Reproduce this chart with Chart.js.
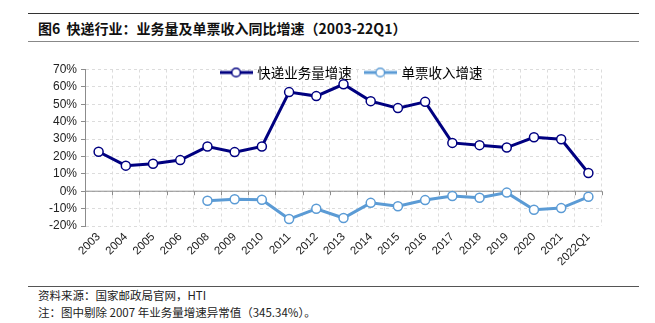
<!DOCTYPE html>
<html>
<head>
<meta charset="utf-8">
<script src="https://cdn.jsdelivr.net/npm/chart.js"></script>
<style>
  body { margin: 0; background: #fff; width: 655px; height: 323px; position: relative; overflow: hidden;
         font-family: "Noto Sans CJK SC", "Liberation Sans", sans-serif; }
  .rule { position: absolute; left: 28px; width: 611px; height: 0; }
  #title { position: absolute; left: 38px; top: 18px; font-size: 14px; font-weight: bold; color: #111; white-space: nowrap; }
  .foot { position: absolute; left: 38px; font-size: 11.5px; color: #222; white-space: nowrap; }
  #box { position: absolute; left: 0; top: 32px; width: 655px; height: 248px; }
</style>
</head>
<body>
  <div class="rule" style="top:13px;border-top:1.5px solid #333"></div>
  <div id="title">图6&nbsp;&nbsp;快递行业：业务量及单票收入同比增速（2003-22Q1）</div>
  <div class="rule" style="top:41px;border-top:1px solid #888"></div>
  <div id="box"><canvas id="myChart"></canvas></div>
  <div class="rule" style="top:286px;border-top:1px solid #555"></div>
  <div class="foot" style="top:287px">资料来源：国家邮政局官网，HTI</div>
  <div class="foot" style="top:304px">注：图中剔除 2007 年业务量增速异常值（345.34%）。</div>
<script>
  const years = ['2003', '2004', '2005', '2006', '2008', '2009', '2010', '2011', '2012', '2013',
                 '2014', '2015', '2016', '2017', '2018', '2019', '2020', '2021', '2022Q1'];
  // 快递业务量增速 (%)
  const volumeGrowth = [22.7, 14.7, 15.8, 17.9, 25.7, 22.5, 25.7, 57.0, 54.7, 61.5,
                        51.8, 47.8, 51.4, 27.8, 26.5, 25.1, 31.0, 29.9, 10.5];
  // 单票收入增速 (%), no data before 2008
  const unitRevenueGrowth = [null, null, null, null, -5.5, -4.6, -4.9, -16.0, -10.1, -15.4,
                             -6.7, -8.6, -5.1, -2.7, -3.8, -0.8, -10.7, -9.7, -3.2];
  const yTicks = { min: -20, max: 70, step: 10 };

  const navy = 'rgb(0,0,128)';
  const sky = 'rgb(91,155,213)';

  // legend marker: short line with an open circle
  function legendMark(color) {
    const c = document.createElement('canvas');
    c.width = 33; c.height = 12;
    const g = c.getContext('2d');
    g.strokeStyle = color; g.lineWidth = 3;
    g.beginPath(); g.moveTo(0, 6); g.lineTo(33, 6); g.stroke();
    g.beginPath(); g.arc(16.5, 6, 4.3, 0, Math.PI * 2);
    g.fillStyle = '#fff'; g.fill();
    g.lineWidth = 1.5; g.stroke();
    return c;
  }

  // solid zero line with small ticks at the category boundaries
  const zeroAxis = {
    id: 'zeroAxis',
    beforeDatasetsDraw(chart) {
      const {ctx, chartArea, scales: {x, y}} = chart;
      const y0 = y.getPixelForValue(0);
      const step = x.getPixelForValue(1) - x.getPixelForValue(0);
      ctx.save();
      ctx.strokeStyle = '#8c8c8c';
      ctx.lineWidth = 1;
      ctx.beginPath();
      ctx.moveTo(chartArea.left, y0);
      ctx.lineTo(chartArea.right, y0);
      for (let i = 0; i <= years.length; i++) {
        const xb = Math.round(x.getPixelForValue(i) - step / 2) + 0.5;
        ctx.moveTo(xb, y0);
        ctx.lineTo(xb, y0 + 4);
      }
      ctx.stroke();
      ctx.restore();
    }
  };

  // the legend takes its room at the top, then is moved down onto the top gridline
  const legendShift = {
    id: 'legendShift',
    afterLayout(chart) {
      const l = chart.legend;
      if (!l) return;
      const pad = l.options.labels.padding;
      const fs = l.options.labels.font.size;
      l.top = chart.chartArea.top + 3 - pad - fs / 2;
      l.bottom = l.top + l.height;
      l.left += 51; l.right += 51;
    }
  };

  Chart.defaults.font.family = '"Liberation Sans", Arial, sans-serif';
  Chart.defaults.color = '#222';

  const ctx = document.getElementById('myChart');
  const myChart = new Chart(ctx, {
    type: 'line',
    data: {
      labels: years,
      datasets: [{
        label: '快递业务量增速',
        data: volumeGrowth,
        borderColor: navy,
        backgroundColor: '#fff',
        borderWidth: 3,
        pointRadius: 4.5,
        pointBorderWidth: 1.5,
        pointBackgroundColor: '#fff',
        pointBorderColor: navy,
        tension: 0
      },
      {
        label: '单票收入增速',
        data: unitRevenueGrowth,
        borderColor: sky,
        backgroundColor: '#fff',
        borderWidth: 3,
        pointRadius: 4.5,
        pointBorderWidth: 1.5,
        pointBackgroundColor: '#fff',
        pointBorderColor: sky,
        tension: 0
      }]
    },
    options: {
      responsive: true,
      maintainAspectRatio: false,
      animation: false,
      layout: { padding: { top: 0, right: 53, left: 0, bottom: 0 } },
      plugins: {
        tooltip: { enabled: false },
        legend: {
          position: 'top',
          align: 'center',
          labels: {
            usePointStyle: true,
            pointStyleWidth: 29,
            padding: 14,
            color: '#222',
            font: { family: '"Noto Sans CJK SC", sans-serif', size: 13.5 },
            generateLabels(chart) {
              return chart.data.datasets.map((ds, i) => ({
                text: ds.label,
                pointStyle: legendMark(ds.borderColor),
                fillStyle: ds.borderColor,
                strokeStyle: ds.borderColor,
                lineWidth: 0,
                hidden: false,
                datasetIndex: i
              }));
            }
          }
        }
      },
      scales: {
        x: {
          offset: true,
          grid: { offset: true, color: '#dcdcdc', drawTicks: false },
          border: { display: false, dash: [3, 3] },
          ticks: { minRotation: 45, maxRotation: 45, padding: 4, autoSkip: false,
                   font: { size: 11.5 }, color: '#222' },
          afterFit(s) { s.height = 54; }
        },
        y: {
          min: yTicks.min,
          max: yTicks.max,
          grid: { color: '#dcdcdc', tickLength: 4, tickColor: '#8c8c8c' },
          border: { display: true, color: '#8c8c8c', width: 1, dash: [3, 3] },
          ticks: { stepSize: yTicks.step, padding: 4, autoSkip: false, font: { size: 12 }, color: '#222',
                   callback: v => v + '%' },
          afterFit(s) { s.width = 85; }
        }
      }
    },
    plugins: [zeroAxis, legendShift]
  });
</script>
</body>
</html>
